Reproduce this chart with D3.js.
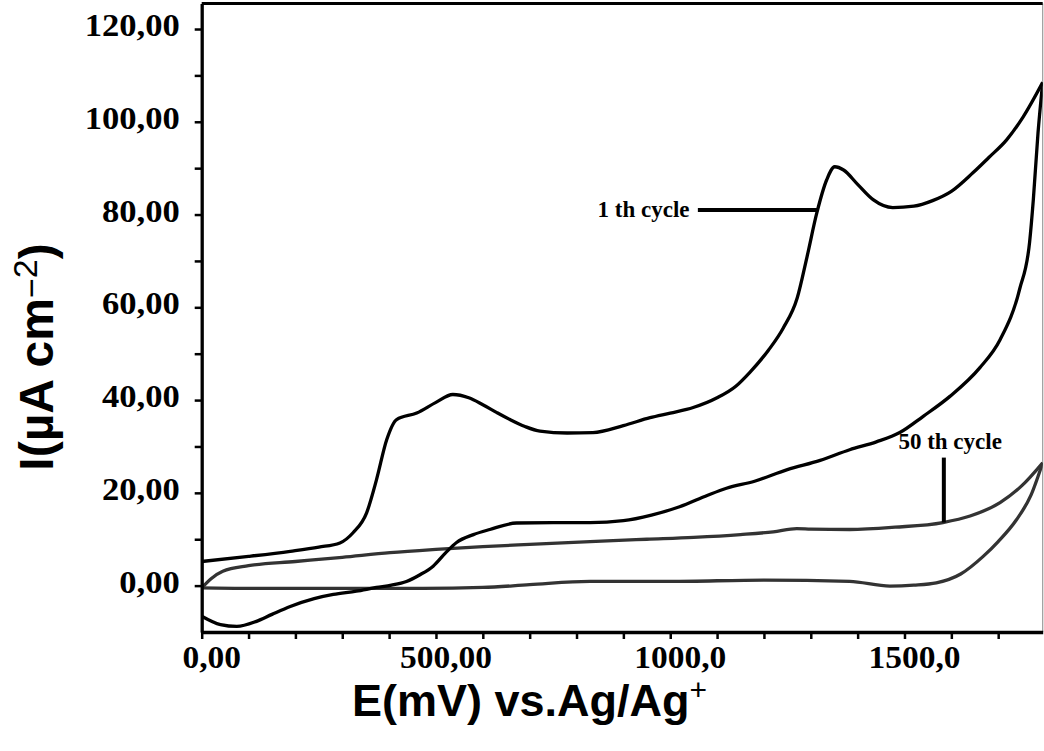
<!DOCTYPE html>
<html>
<head>
<meta charset="utf-8">
<script src="https://cdn.jsdelivr.net/npm/d3@7"></script>
<style>
  body { margin: 0; background: #fff; }
  svg { display: block; }
</style>
</head>
<body>
<svg id="chart" width="1044" height="751"></svg>
<script>
// potential (mV) and current density (uA cm-2)
var e1Fwd = [0, 100, 189, 250, 295, 323, 352, 373, 395, 416, 459, 500, 536, 570, 600, 630, 658, 690, 722, 780, 835, 900, 957, 1000, 1049, 1100, 1140, 1170, 1210, 1241, 1271, 1292, 1313, 1334, 1351, 1370, 1400, 1433, 1475, 1520, 1560, 1600, 1646, 1680, 1718, 1753, 1795];
var i1Fwd = [5.2, 6.3, 7.4, 8.3, 9.2, 11.4, 15.7, 22.8, 31.5, 35.8, 37.2, 39.5, 41.2, 40.5, 39.0, 37.3, 35.8, 34.3, 33.3, 32.9, 33.0, 34.5, 36.2, 37.2, 38.4, 40.5, 43.0, 46.0, 50.8, 55.5, 62.0, 70.9, 80.4, 87.5, 90.3, 89.6, 86.5, 83.2, 81.5, 81.8, 83.0, 85.0, 89.0, 92.3, 96.1, 101.0, 108.5];

var e1Rev = [0, 40, 75, 117, 150, 189, 240, 281, 330, 373, 405, 437, 465, 494, 520, 544, 580, 615, 672, 750, 829, 900, 960, 1020, 1080, 1120, 1180, 1250, 1320, 1383, 1440, 1490, 1540, 1597, 1661, 1704, 1746, 1767, 1775, 1785, 1795];
var i1Rev = [-6.6, -8.4, -8.8, -7.7, -6.2, -4.5, -2.8, -1.9, -1.2, -0.4, 0.1, 0.9, 2.3, 4.2, 7.0, 9.3, 11.0, 12.1, 13.5, 13.6, 13.6, 14.0, 15.2, 17.0, 19.5, 21.0, 22.5, 25.0, 27.0, 29.3, 31.0, 33.0, 36.5, 40.8, 47.0, 53.0, 64.0, 74.0, 83.2, 97.6, 108.5];

var e50Fwd = [0, 20, 45, 100, 200, 300, 402, 500, 600, 700, 829, 950, 1050, 1150, 1220, 1270, 1300, 1383, 1480, 1582, 1640, 1704, 1750, 1795];
var i50Fwd = [-0.5, 1.5, 3.1, 4.3, 5.2, 6.1, 7.1, 7.8, 8.4, 8.9, 9.5, 10.0, 10.4, 11.0, 11.6, 12.3, 12.2, 12.1, 12.6, 13.6, 15.0, 17.9, 21.5, 26.5];

var e50Rev = [0, 100, 300, 472, 600, 700, 829, 1000, 1200, 1383, 1469, 1520, 1568, 1620, 1668, 1700, 1739, 1770, 1795];
var i50Rev = [-0.5, -0.6, -0.6, -0.6, -0.4, 0.2, 0.9, 0.9, 1.2, 0.9, -0.1, 0.1, 0.6, 2.5, 6.3, 9.5, 14.2, 19.5, 26.5];

var yTicks = [0, 20, 40, 60, 80, 100, 120];
var yTickLabels = ["0,00", "20,00", "40,00", "60,00", "80,00", "100,00", "120,00"];
var xTicks = [0, 500, 1000, 1500];
var xTickLabels = ["0,00", "500,00", "1000,0", "1500,0"];

var plotLeft = 201.7, plotRight = 1042.7, plotTop = 3.5, plotBottom = 632;

var svg = d3.select("#chart");

var x = d3.scaleLinear().domain([0, 1795]).range([plotLeft, plotRight]);
var y = d3.scaleLinear().domain([-10, 125.5]).range([plotBottom, plotTop]);

function toPoints(es, is) {
    return es.map(function (e, k) { return [e, is[k]]; });
}

svg.append("defs").append("clipPath").attr("id", "plot-clip")
    .append("rect")
    .attr("x", plotLeft).attr("y", plotTop)
    .attr("width", plotRight - plotLeft).attr("height", plotBottom - plotTop);

// frame: thin gray right edge, thick top edge
svg.append("line")
    .attr("x1", plotRight).attr("x2", plotRight).attr("y1", plotTop).attr("y2", plotBottom)
    .attr("stroke", "#999").attr("stroke-width", 1.2);
svg.append("line")
    .attr("x1", plotLeft).attr("x2", plotRight).attr("y1", plotTop).attr("y2", plotTop)
    .attr("stroke", "#000").attr("stroke-width", 3);

var line = d3.line()
    .x(function (d) { return x(d[0]); })
    .y(function (d) { return y(d[1]); })
    .curve(d3.curveMonotoneX);

var curves = svg.append("g").attr("clip-path", "url(#plot-clip)");

var series = [
    { pts: toPoints(e50Rev, i50Rev), color: "#333" },
    { pts: toPoints(e50Fwd, i50Fwd), color: "#333" },
    { pts: toPoints(e1Rev, i1Rev), color: "#000" },
    { pts: toPoints(e1Fwd, i1Fwd), color: "#000" }
];

curves.selectAll(".cv")
    .data(series)
    .enter().append("path")
    .attr("class", "cv")
    .attr("d", function (d) { return line(d.pts); })
    .attr("fill", "none")
    .attr("stroke", function (d) { return d.color; })
    .attr("stroke-width", 3.3)
    .attr("stroke-linejoin", "round");

// axes
var yAxis = svg.append("g")
    .attr("transform", "translate(" + plotLeft + ",0)")
    .call(d3.axisLeft(y).tickValues(d3.range(0, 121, 10)).tickSize(7).tickSizeOuter(0).tickFormat(""));
var xAxis = svg.append("g")
    .attr("transform", "translate(0," + plotBottom + ")")
    .call(d3.axisBottom(x).tickValues(d3.range(0, 1701, 100)).tickSize(7).tickSizeOuter(0).tickFormat(""));

[yAxis, xAxis].forEach(function (ax) {
    ax.select(".domain").attr("stroke", "#000").attr("stroke-width", 3.3);
    ax.selectAll(".tick line").attr("stroke", "#000").attr("stroke-width", 2.5);
});

var stretch = 1.08;
var tickFont = "'Liberation Serif', 'Times New Roman', serif";

svg.selectAll(".ylab")
    .data(yTicks)
    .enter().append("text")
    .attr("class", "ylab")
    .attr("transform", function (d) {
        return "translate(" + (plotLeft - 22) + "," + (y(d) + 7) + ") scale(" + stretch + ",1)";
    })
    .attr("text-anchor", "end")
    .style("font-family", tickFont)
    .style("font-weight", "bold")
    .style("font-size", "32px")
    .text(function (d, i) { return yTickLabels[i]; });

svg.selectAll(".xlab")
    .data(xTicks)
    .enter().append("text")
    .attr("class", "xlab")
    .attr("transform", function (d) {
        return "translate(" + (x(d) + 10) + "," + (plotBottom + 36) + ") scale(" + stretch + ",1)";
    })
    .attr("text-anchor", "middle")
    .style("font-family", tickFont)
    .style("font-weight", "bold")
    .style("font-size", "31px")
    .text(function (d, i) { return xTickLabels[i]; });

// axis titles
var xTitle = svg.append("text")
    .attr("x", 352).attr("y", 716)
    .style("font-family", "'Liberation Sans', Arial, sans-serif")
    .style("font-weight", "bold")
    .style("font-size", "45px");
xTitle.append("tspan").text("E(mV) vs.Ag/Ag");
xTitle.append("tspan").attr("dy", -16).style("font-size", "30px").style("font-weight", "normal").text("+");

var yTitle = svg.append("text")
    .attr("transform", "translate(53,357) rotate(-90)")
    .attr("text-anchor", "middle")
    .style("font-family", "'Liberation Sans', Arial, sans-serif")
    .style("font-weight", "bold")
    .style("font-size", "48px");
yTitle.append("tspan").text("I(µA cm");
yTitle.append("tspan").attr("dy", -10).style("font-size", "34px").style("font-weight", "normal").text("−");
yTitle.append("tspan").attr("dy", -6).style("font-size", "34px").style("font-weight", "normal").text("2");
yTitle.append("tspan").attr("dy", 16).text(")");

// cycle annotations
svg.append("text")
    .attr("x", x(845)).attr("y", y(81) + 7)
    .style("font-family", tickFont).style("font-weight", "bold").style("font-size", "23px")
    .text("1 th cycle");
svg.append("line")
    .attr("x1", x(1059)).attr("x2", x(1315))
    .attr("y1", y(81)).attr("y2", y(81))
    .attr("stroke", "#000").attr("stroke-width", 4);

svg.append("text")
    .attr("x", x(1487)).attr("y", y(29.5))
    .style("font-family", tickFont).style("font-weight", "bold").style("font-size", "23px")
    .text("50 th cycle");
svg.append("line")
    .attr("x1", x(1584)).attr("x2", x(1584))
    .attr("y1", y(27.6)).attr("y2", y(13.6))
    .attr("stroke", "#000").attr("stroke-width", 4);
</script>
</body>
</html>
